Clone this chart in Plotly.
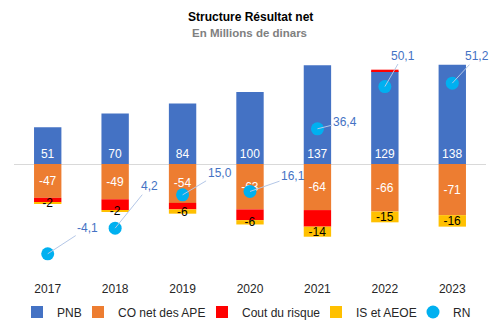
import plotly.graph_objects as go

years = ["2017", "2018", "2019", "2020", "2021", "2022", "2023"]
pnb = [51, 70, 84, 100, 137, 129, 138]
co_net = [-47, -49, -54, -63, -64, -66, -71]
cout_risque = [-6, -15, -9, -15, -23, 2, 0]
is_aeoe = [-2, -2, -6, -6, -14, -15, -16]
rn = [-4.1, 4.2, 15.0, 16.1, 36.4, 50.1, 51.2]

# label offsets (px) for RN callouts
rn_label_dx = [40, 34, 37, 43, 28, 18, 25]
rn_label_dy = [-26, -42, -22, -15, -7, -31, -27]

FONT = "Liberation Sans, Arial, sans-serif"
L, R, T, B = 14, 15, 56, 59
PW = 501 - L - R
PH = 331 - T - B


def px_x(p):
    return (p - L) / PW


def px_y(p):
    return 1 - (p - T) / PH


fig = go.Figure()
fig.add_trace(go.Bar(
    x=years, y=pnb, name="PNB", legend="legend",
    marker=dict(color="#4472C4", line=dict(width=0)),
    text=[str(v) for v in pnb], textposition="inside", insidetextanchor="start",
    textangle=0, constraintext="none",
    textfont=dict(color="white", size=12, family=FONT),
))
fig.add_trace(go.Bar(
    x=years, y=co_net, name="CO net des APE", legend="legend2",
    marker=dict(color="#ED7D31", line=dict(width=0)),
    text=[str(v) for v in co_net], textposition="inside", insidetextanchor="middle",
    textangle=0, constraintext="none",
    textfont=dict(color="white", size=12, family=FONT),
))
fig.add_trace(go.Bar(
    x=years, y=cout_risque, name="Cout du risque", legend="legend3",
    marker=dict(color="#FF0000", line=dict(width=0)),
    textposition="none",
))
fig.add_trace(go.Bar(
    x=years, y=is_aeoe, name="IS et AEOE", legend="legend4",
    marker=dict(color="#FFC000", line=dict(width=0)),
    text=[str(v) for v in is_aeoe], textposition="inside", insidetextanchor="middle",
    textangle=0, constraintext="none",
    textfont=dict(color="black", size=12, family=FONT),
))
fig.add_trace(go.Scatter(
    x=years, y=rn, name="RN", mode="markers", yaxis="y2", legend="legend5",
    marker=dict(color="#00B0F0", size=13),
))

for i, (y, dx, dy) in enumerate(zip(rn, rn_label_dx, rn_label_dy)):
    fig.add_annotation(
        x=i, y=y, xref="x", yref="y2", text=f"{y:.1f}".replace(".", ","),
        showarrow=True, ax=dx, ay=dy, arrowhead=0, arrowwidth=1,
        arrowcolor="#B4C7E7", standoff=0,
        font=dict(color="#4472C4", size=12, family=FONT),
    )

fig.add_annotation(
    text="<b>Structure Résultat net</b>", xref="paper", yref="paper",
    x=px_x(250), y=px_y(17), xanchor="center", yanchor="middle", showarrow=False,
    font=dict(size=12, color="black", family=FONT),
)
fig.add_annotation(
    text="<b>En Millions de dinars</b>", xref="paper", yref="paper",
    x=px_x(249), y=px_y(33), xanchor="center", yanchor="middle", showarrow=False,
    font=dict(size=11.5, color="#808080", family=FONT),
)

legend_left_px = [17, 78, 202, 316, 413]
legend_common = dict(orientation="h", yanchor="middle", y=px_y(312), xanchor="left",
                     font=dict(size=12, color="#262626", family=FONT),
                     itemwidth=30, bgcolor="rgba(0,0,0,0)", borderwidth=0)
legends = {}
for k, xs in enumerate(legend_left_px):
    key = "legend" if k == 0 else f"legend{k + 1}"
    legends[key] = dict(legend_common, x=px_x(xs))

fig.update_layout(
    width=501, height=331,
    margin=dict(l=L, r=R, t=T, b=B, autoexpand=False),
    paper_bgcolor="white", plot_bgcolor="white",
    barmode="relative", bargap=0.594,
    font=dict(family=FONT, size=12, color="#262626"),
    showlegend=True,
    xaxis=dict(type="category", range=[-0.5, 6.5], showgrid=False, showline=False,
               ticks="outside", ticklen=6, tickcolor="rgba(0,0,0,0)",
               tickfont=dict(size=12, color="#262626")),
    yaxis=dict(range=[-150, 150], showgrid=False, showticklabels=False,
               zeroline=True, zerolinecolor="#D9D9D9", zerolinewidth=1),
    yaxis2=dict(range=[-10, 60], overlaying="y", side="right", showgrid=False,
                showticklabels=False, zeroline=False),
    **legends,
)

fig.write_html("out.html")
